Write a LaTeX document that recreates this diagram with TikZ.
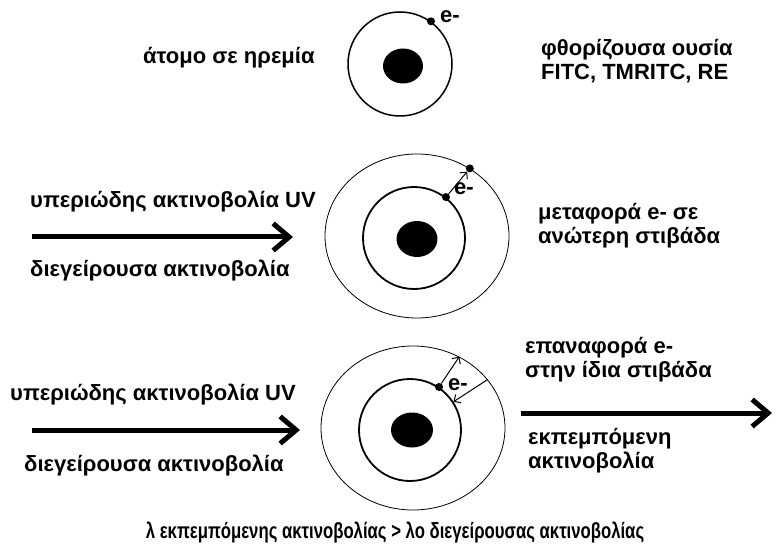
\documentclass[tikz,border=0pt]{standalone}
\usepackage{fontspec}
\setmainfont{Liberation Sans}
\usetikzlibrary{shapes,arrows.meta,calc,positioning}
\tikzset{
    x=1pt,y=-1pt,
    font=\bfseries\fontsize{22}{24}\selectfont,
    orbit/.style ={circle, draw, inner sep=0pt, line width=1.8pt},
    shell/.style ={ellipse, draw, inner sep=0pt, line width=0.8pt},
    nucleus/.style={ellipse, fill, inner sep=0pt},
    electron/.style={circle, fill, inner sep=0pt, minimum size=8pt, node contents={}},
    ray/.style={line width=5pt, -{Straight Barb[length=16pt,width=27pt]}},
    jump/.style={line width=1pt, -{Straight Barb[length=5pt,width=10pt]}},
    txt/.style={inner sep=0pt, align=left, anchor=west}
}

\begin{document}
\begin{tikzpicture}
    \useasboundingbox (0,0) rectangle (776,553);

    % atom at rest
    \node[orbit, line width=1.5pt, minimum size=104pt] (orb0) at (400,64) {};
    \node[nucleus, minimum width=40pt, minimum height=35pt] (nuc0) at (403,66) {};
    \node (e0) at (orb0.54) [electron];
    \node[inner sep=0pt] (le0) at (450,17) {e-};
    \node[txt] (rest) at (143,58) {άτομο σε ηρεμία};
    \node[txt] (dye) at (541,61) {φθορίζουσα ουσία\\FITC, TMRITC, RE};

    % excitation
    \node[txt] (uv1) at (30,202) {υπεριώδης ακτινοβολία UV};
    \node[txt] (exc1) at (30,271) {διεγείρουσα ακτινοβολία};
    \coordinate (a1s) at (32,237);
    \coordinate (a1e) at (293,237);
    \path (a1s) edge[ray] (a1e);

    \node[shell, minimum width=184pt, minimum height=164pt] (sh1) at (417,236) {};
    \node[orbit, minimum size=102pt] (orb1) at (414,238) {};
    \node[nucleus, minimum width=41pt, minimum height=36pt] (nuc1) at (417,239) {};
    \node (e1) at (orb1.52) [electron];
    \node (e2) at (sh1.52) [electron];
    \path (e1) edge[jump] (e2);
    \node[inner sep=0pt] (le1) at (464,189) {e-};
    \node[txt] (move) at (538,226) {μεταφορά e- σε\\ανώτερη στιβάδα};

    % emission
    \node[txt] (uv2) at (10,395) {υπεριώδης ακτινοβολία UV};
    \node[txt] (exc2) at (24,466) {διεγείρουσα ακτινοβολία};
    \coordinate (a2s) at (32,430);
    \coordinate (a2e) at (300,430);
    \path (a2s) edge[ray] (a2e);

    \node[shell, minimum width=184pt, minimum height=164pt] (sh2) at (413,428) {};
    \node[orbit, minimum size=102pt] (orb2) at (410,430) {};
    \node[nucleus, minimum width=42pt, minimum height=35pt] (nuc2) at (412,430) {};
    \node (e3) at (orb2.56) [electron];
    \coordinate (up2) at (sh2.57);
    \coordinate (out2) at (sh2.33);
    \coordinate (in2) at (orb2.33);
    \path (e3) edge[jump] (up2);
    \path (out2) edge[jump] (in2);
    \node[inner sep=0pt] (le2) at (458,385) {e-};
    \node[txt] (back) at (525,360) {επαναφορά e-\\στην ίδια στιβάδα};

    \coordinate (a3s) at (521,413);
    \coordinate (a3e) at (772,413);
    \path (a3s) edge[ray] (a3e);
    \node[txt] (emit) at (528,451) {εκπεμπόμενη\\ακτινοβολία};

    % narrower type for the closing line
    \node[inner sep=0pt] (rule) at (395,533)
        {\scalebox{0.76}[1]{λ εκπεμπόμενης ακτινοβολίας > λο διεγείρουσας ακτινοβολίας}};
\end{tikzpicture}
\end{document}
